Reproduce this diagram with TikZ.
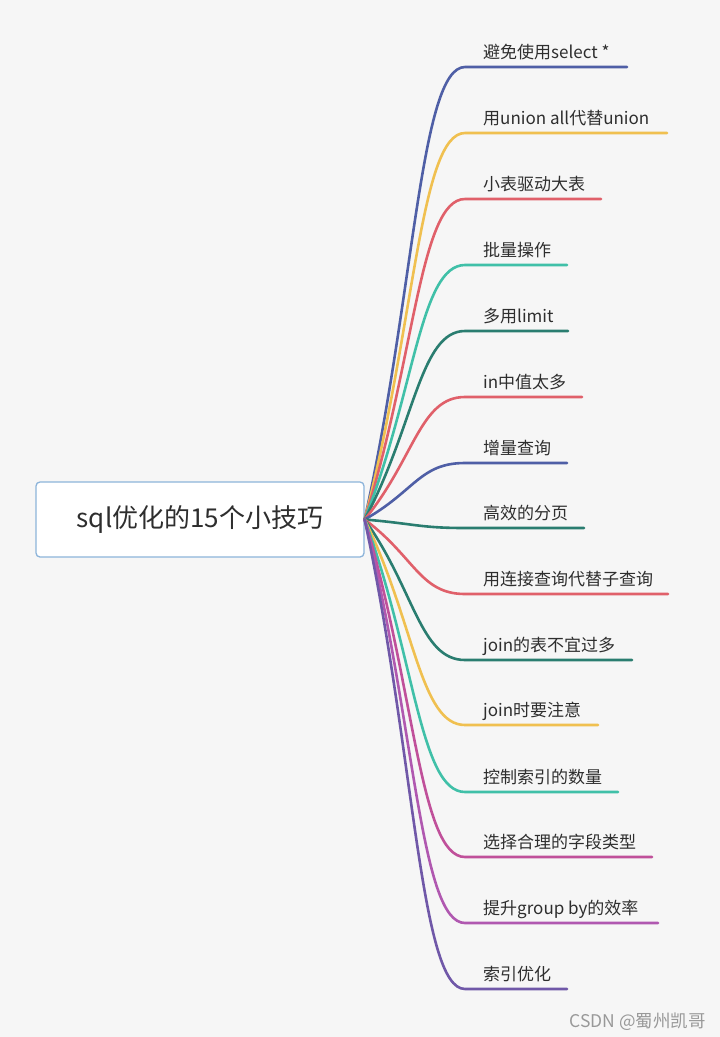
\documentclass[tikz,border=0pt]{standalone}
\usepackage{fontspec}
\setmainfont{Noto Sans CJK SC}
\usepackage{tikz}
\usetikzlibrary{
  calc
  , positioning
}

\definecolor{bg}{HTML}{F6F6F6}
\definecolor{boxline}{HTML}{8DB4DA}
\definecolor{txt}{HTML}{2E2E2E}
\definecolor{cblue}{HTML}{4F5FA6}
\definecolor{cyellow}{HTML}{F0C050}
\definecolor{cred}{HTML}{E0606A}
\definecolor{cteal}{HTML}{40C0A8}
\definecolor{cdark}{HTML}{2A7D70}
\definecolor{cpink}{HTML}{C0509A}
\definecolor{cmag}{HTML}{B058B0}
\definecolor{cpurple}{HTML}{7058A8}

\tikzset{
  rootbox/.style={draw=boxline, line width=1.3pt, fill=white,
    rounded corners=4pt, minimum width=328pt, minimum height=75pt,
    text=txt, font=\fontsize{26}{30}\selectfont},
  tip/.style={anchor=base west, inner sep=0pt, text=txt,
    font=\fontsize{17}{20}\selectfont},
  branch/.style={line width=2.6pt, line cap=round},
}

\begin{document}
\begin{tikzpicture}[x=1pt, y=-1pt]
  \fill [bg] (0,0) rectangle (720,1037);
  \useasboundingbox (0,0) rectangle (720,1037);

  \node [rootbox] (R) at (200,519.5) {sql优化的15个小技巧};

  % corners and ends of the branches
  \coordinate (b1) at (465,67);   \coordinate (e1) at (627,67);
  \coordinate (b2) at (465,133);  \coordinate (e2) at (667,133);
  \coordinate (b3) at (465,199);  \coordinate (e3) at (601,199);
  \coordinate (b4) at (465,265);  \coordinate (e4) at (567,265);
  \coordinate (b5) at (465,331);  \coordinate (e5) at (568,331);
  \coordinate (b6) at (465,397);  \coordinate (e6) at (582,397);
  \coordinate (b7) at (465,463);  \coordinate (e7) at (567,463);
  \coordinate (b8) at (465,528);  \coordinate (e8) at (584,528);
  \coordinate (b9) at (465,594);  \coordinate (e9) at (668,594);
  \coordinate (b10) at (465,660); \coordinate (e10) at (632,660);
  \coordinate (b11) at (465,725); \coordinate (e11) at (598,725);
  \coordinate (b12) at (465,792); \coordinate (e12) at (618,792);
  \coordinate (b13) at (465,857); \coordinate (e13) at (652,857);
  \coordinate (b14) at (465,923); \coordinate (e14) at (658,923);
  \coordinate (b15) at (465,989); \coordinate (e15) at (567,989);

  \node [tip] (t1) at (483,58) {避免使用select *};
  \node [tip] (t2) at (483,124) {用union all代替union};
  \node [tip] (t3) at (483,190) {小表驱动大表};
  \node [tip] (t4) at (483,256) {批量操作};
  \node [tip] (t5) at (483,322) {多用limit};
  \node [tip] (t6) at (483,388) {in中值太多};
  \node [tip] (t7) at (483,454) {增量查询};
  \node [tip] (t8) at (483,519) {高效的分页};
  \node [tip] (t9) at (483,585) {用连接查询代替子查询};
  \node [tip] (t10) at (483,651) {join的表不宜过多};
  \node [tip] (t11) at (483,716) {join时要注意};
  \node [tip] (t12) at (483,783) {控制索引的数量};
  \node [tip] (t13) at (483,848) {选择合理的字段类型};
  \node [tip] (t14) at (483,914) {提升group by的效率};
  \node [tip] (t15) at (483,980) {索引优化};

  \coordinate (o) at (R.east);
  \draw [branch, cblue] (o) .. controls ($(o)!0.5!(b1)$) and ($(b1)+(-45,0)$) .. (b1) -- (e1);
  \draw [branch, cyellow] (o) .. controls ($(o)!0.5!(b2)$) and ($(b2)+(-45,0)$) .. (b2) -- (e2);
  \draw [branch, cred] (o) .. controls ($(o)!0.5!(b3)$) and ($(b3)+(-45,0)$) .. (b3) -- (e3);
  \draw [branch, cteal] (o) .. controls ($(o)!0.5!(b4)$) and ($(b4)+(-45,0)$) .. (b4) -- (e4);
  \draw [branch, cdark] (o) .. controls ($(o)!0.5!(b5)$) and ($(b5)+(-45,0)$) .. (b5) -- (e5);
  \draw [branch, cred] (o) .. controls ($(o)!0.5!(b6)$) and ($(b6)+(-45,0)$) .. (b6) -- (e6);
  \draw [branch, cblue] (o) .. controls ($(o)!0.5!(b7)$) and ($(b7)+(-45,0)$) .. (b7) -- (e7);
  \draw [branch, cdark] (o) .. controls ($(o)!0.5!(b8)$) and ($(b8)+(-45,0)$) .. (b8) -- (e8);
  \draw [branch, cred] (o) .. controls ($(o)!0.5!(b9)$) and ($(b9)+(-45,0)$) .. (b9) -- (e9);
  \draw [branch, cdark] (o) .. controls ($(o)!0.5!(b10)$) and ($(b10)+(-45,0)$) .. (b10) -- (e10);
  \draw [branch, cyellow] (o) .. controls ($(o)!0.5!(b11)$) and ($(b11)+(-45,0)$) .. (b11) -- (e11);
  \draw [branch, cteal] (o) .. controls ($(o)!0.5!(b12)$) and ($(b12)+(-45,0)$) .. (b12) -- (e12);
  \draw [branch, cpink] (o) .. controls ($(o)!0.5!(b13)$) and ($(b13)+(-45,0)$) .. (b13) -- (e13);
  \draw [branch, cmag] (o) .. controls ($(o)!0.5!(b14)$) and ($(b14)+(-45,0)$) .. (b14) -- (e14);
  \draw [branch, cpurple] (o) .. controls ($(o)!0.5!(b15)$) and ($(b15)+(-45,0)$) .. (b15) -- (e15);

  \node [anchor=base east, inner sep=0pt, text=black!40,
    font=\fontsize{17.5}{20}\selectfont] (mark) at (706,1027) {CSDN @蜀州凯哥};
\end{tikzpicture}
\end{document}
